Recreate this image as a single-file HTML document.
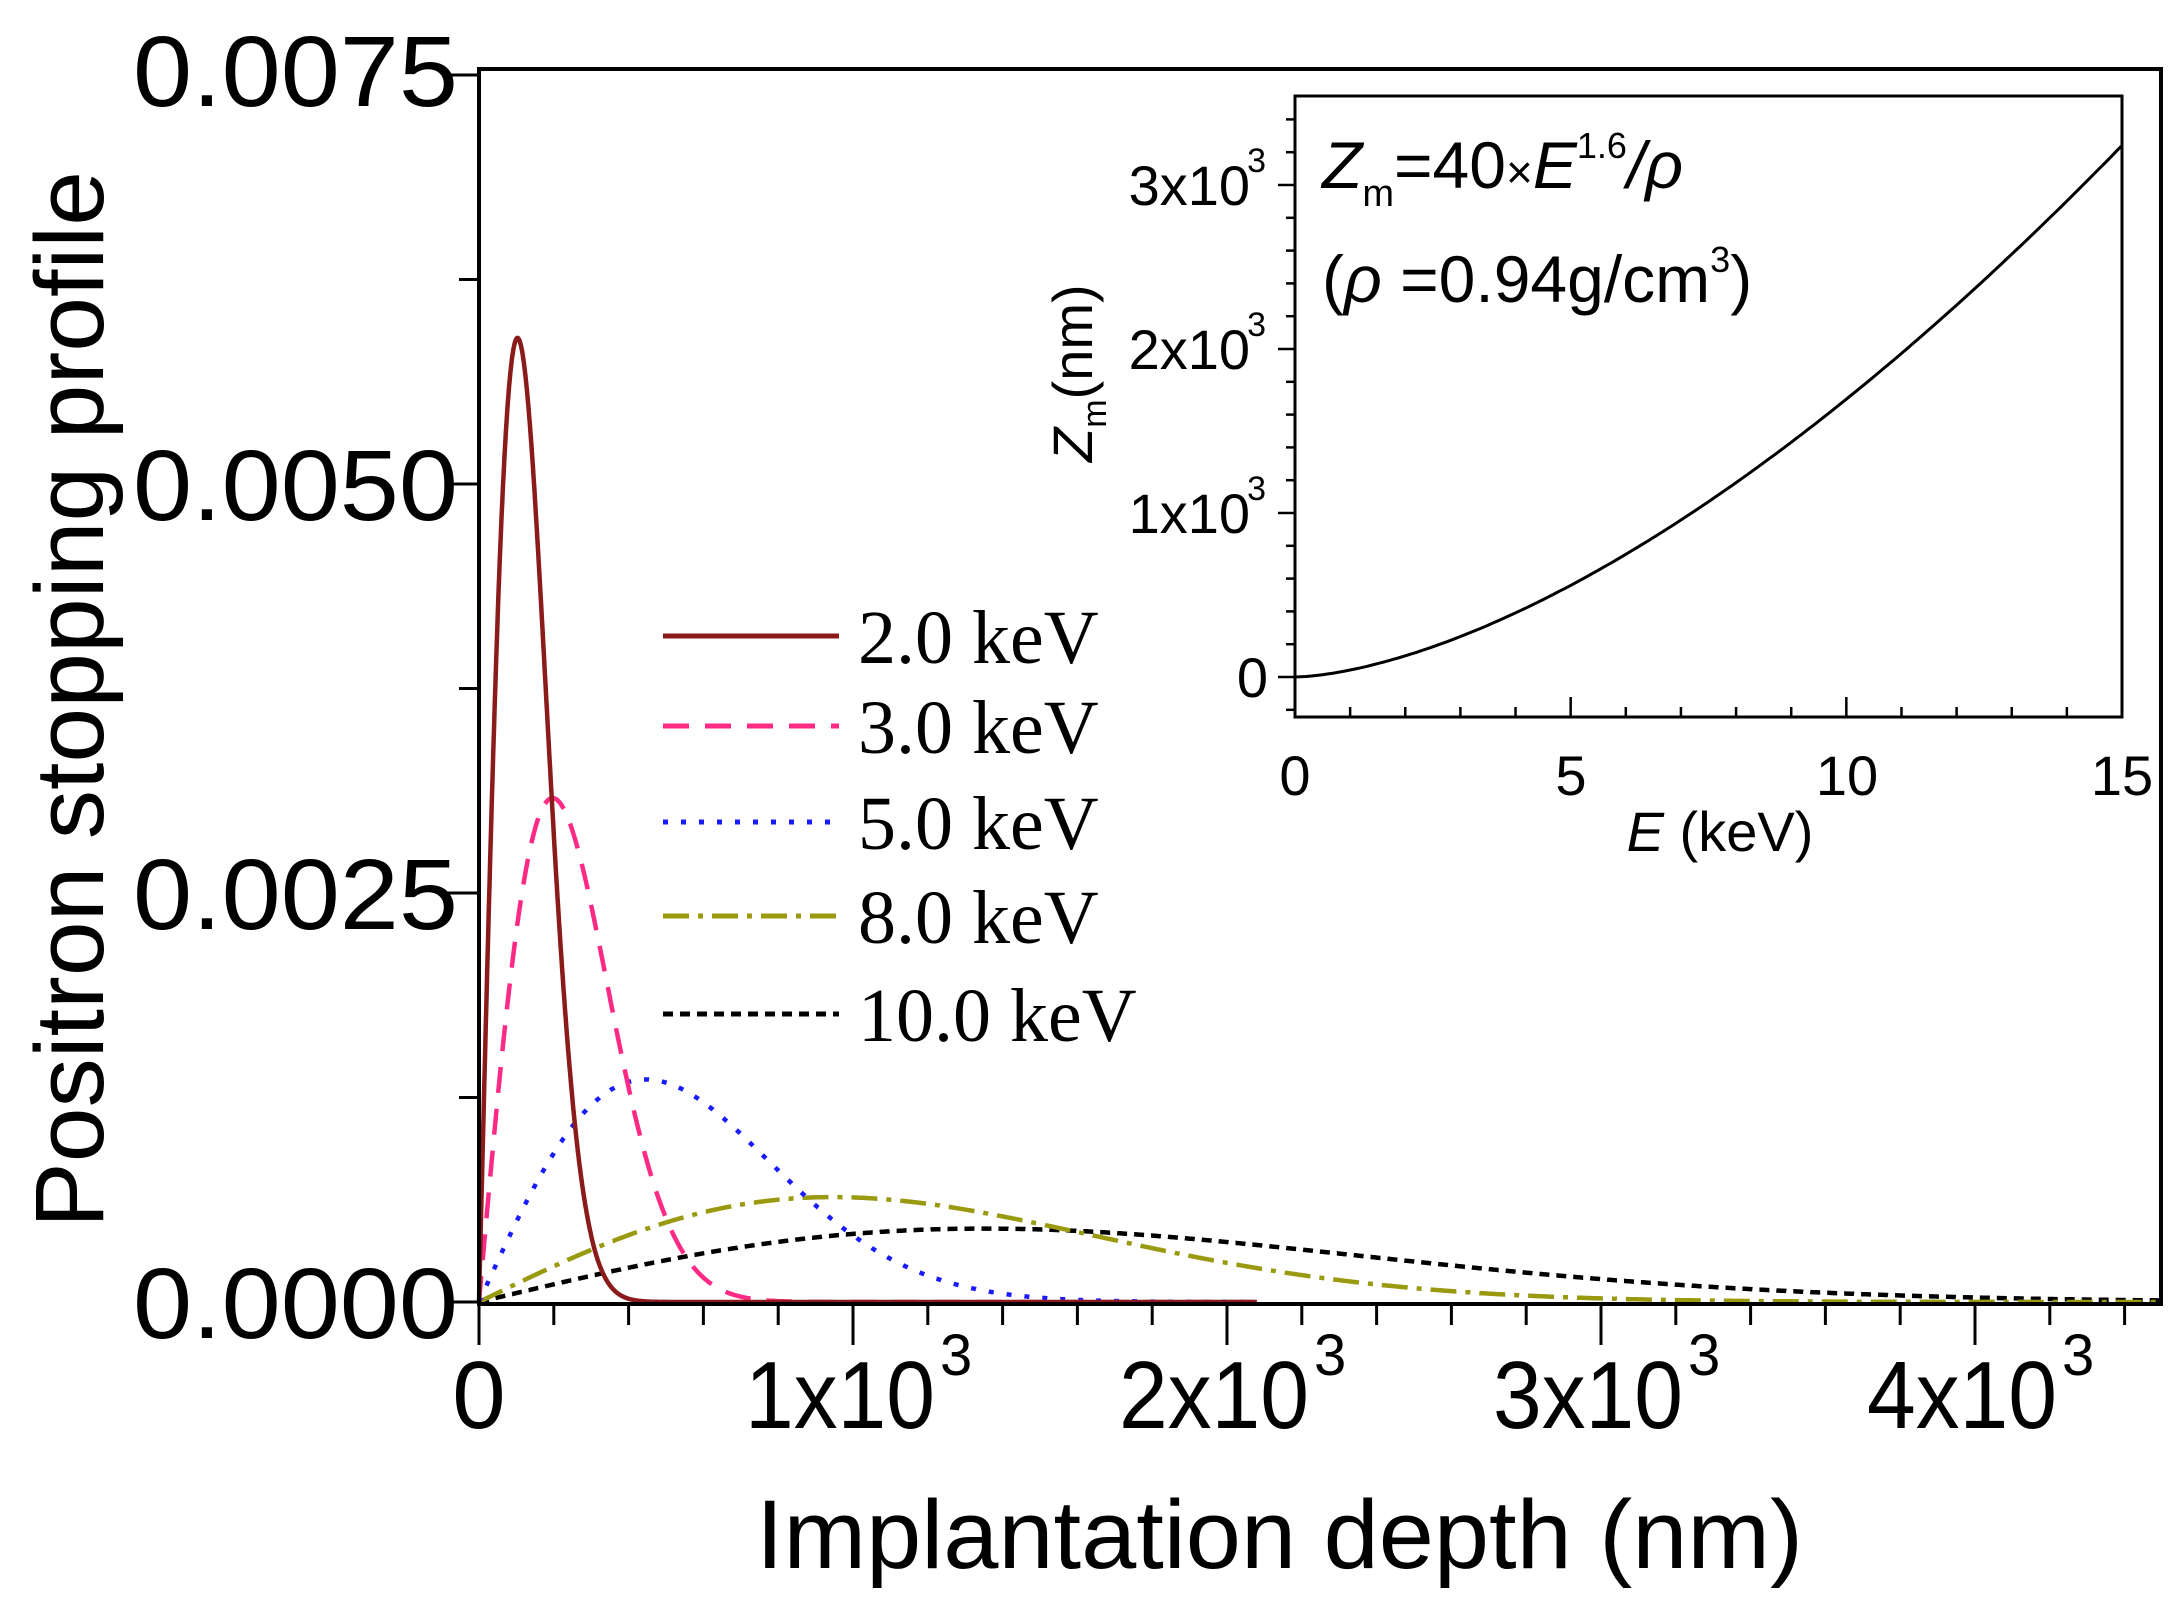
<!DOCTYPE html>
<html><head><meta charset="utf-8"><style>
html,body{margin:0;padding:0;background:#fff;}
svg{display:block;}
text{font-family:"Liberation Sans",Arial,sans-serif;fill:#000;}
.t{font-family:"Liberation Serif","Times New Roman",serif;}
</style></head><body>
<svg id="s" width="2175" height="1608" viewBox="0 0 2175 1608" xmlns="http://www.w3.org/2000/svg">
<rect width="2175" height="1608" fill="#fff"/>
<g id="curves" fill="none"></g>
<g id="axes" stroke="#000" fill="none"></g>
<rect x="479" y="69" width="1682" height="1235" fill="none" stroke="#000" stroke-width="4"/>
<g font-size="100" text-anchor="end">
<text x="458" y="1338" textLength="325" lengthAdjust="spacingAndGlyphs">0.0000</text>
<text x="458" y="929" textLength="325" lengthAdjust="spacingAndGlyphs">0.0025</text>
<text x="458" y="520" textLength="325" lengthAdjust="spacingAndGlyphs">0.0050</text>
<text x="458" y="106" textLength="325" lengthAdjust="spacingAndGlyphs">0.0075</text>
</g>
<g font-size="96">
<text x="479" y="1428" text-anchor="middle">0</text>
<text x="745" y="1428" textLength="190" lengthAdjust="spacingAndGlyphs">1x10</text><text x="940" y="1375" font-size="58">3</text>
<text x="1119" y="1428" textLength="190" lengthAdjust="spacingAndGlyphs">2x10</text><text x="1314" y="1375" font-size="58">3</text>
<text x="1493" y="1428" textLength="190" lengthAdjust="spacingAndGlyphs">3x10</text><text x="1688" y="1375" font-size="58">3</text>
<text x="1867" y="1428" textLength="190" lengthAdjust="spacingAndGlyphs">4x10</text><text x="2062" y="1375" font-size="58">3</text>
</g>
<text x="756" y="1568" font-size="97" textLength="1047" lengthAdjust="spacingAndGlyphs">Implantation depth (nm)</text>
<text transform="translate(103,1228) rotate(-90)" font-size="97" textLength="1057" lengthAdjust="spacingAndGlyphs">Positron stopping profile</text>
<g stroke-width="5">
<line x1="663" y1="636" x2="839" y2="636" stroke="#8b1a1a"/>
<line x1="663" y1="726" x2="839" y2="726" stroke="#ff2a85" stroke-dasharray="26,16"/>
<line x1="663" y1="822" x2="839" y2="822" stroke="#1a1aff" stroke-dasharray="5,13"/>
<line x1="663" y1="916" x2="839" y2="916" stroke="#9a9a10" stroke-dasharray="26,9,5,9"/>
<line x1="663" y1="1014" x2="839" y2="1014" stroke="#000" stroke-dasharray="10,7"/>
</g>
<g class="t" font-size="76">
<text class="t" x="858" y="663">2.0 keV</text>
<text class="t" x="858" y="753">3.0 keV</text>
<text class="t" x="858" y="849">5.0 keV</text>
<text class="t" x="858" y="943">8.0 keV</text>
<text class="t" x="858" y="1041">10.0 keV</text>
</g>
<rect x="1295" y="96" width="827" height="621" fill="#fff" stroke="#000" stroke-width="3"/>
<g id="inset" fill="none"></g>
<g font-size="56" text-anchor="end">
<text x="1268" y="697">0</text>
<text x="1250" y="533">1x10</text><text x="1266" y="500" font-size="34">3</text>
<text x="1250" y="369">2x10</text><text x="1266" y="336" font-size="34">3</text>
<text x="1250" y="205">3x10</text><text x="1266" y="172" font-size="34">3</text>
</g>
<g font-size="56" text-anchor="middle">
<text x="1295" y="795">0</text>
<text x="1571" y="795">5</text>
<text x="1847" y="795">10</text>
<text x="2122" y="795">15</text>
</g>
<text x="1720" y="851" font-size="56" text-anchor="middle"><tspan font-style="italic">E</tspan> (keV)</text>
<text transform="translate(1092,462) rotate(-90)" font-size="56"><tspan font-style="italic">Z</tspan><tspan font-size="34" dy="14">m</tspan><tspan dy="-14">(nm)</tspan></text>
<text x="1322" y="188" font-size="66"><tspan font-style="italic">Z</tspan><tspan font-size="38" dy="18">m</tspan><tspan dy="-18">=40</tspan><tspan font-size="46">×</tspan><tspan font-style="italic">E</tspan><tspan font-size="36" dy="-30">1.6</tspan><tspan dy="30" font-style="italic">/ρ</tspan></text>
<text x="1322" y="302" font-size="66">(<tspan font-style="italic">ρ</tspan> =0.94g/cm<tspan font-size="36" dy="-30">3</tspan><tspan dy="30">)</tspan></text>
</svg>
<script>
(function(){
var NS="http://www.w3.org/2000/svg";
function el(p,tag,a){var e=document.createElementNS(NS,tag);for(var k in a)e.setAttribute(k,a[k]);p.appendChild(e);return e;}
var X0=479,PX=0.374,Y0=1302,PY=409/0.0025;
var cur=document.getElementById('curves');
var ser=[[2,2080,'#8b1a1a','none'],[3,2080,'#ff2a85','26,16'],[5,2080,'#1a1aff','5,13'],[8,4500,'#9a9a10','26,9,5,9'],[10,4500,'#000','10,7']];
ser.slice().reverse().forEach(function(s){
 var zm=40*Math.pow(s[0],1.6)/0.94,z0=zm/0.886227,d='';
 for(var z=0;z<=s[1];z+=2){var p=2*z/(z0*z0)*Math.exp(-(z/z0)*(z/z0));
  d+=(z?'L':'M')+(X0+z*PX).toFixed(1)+','+(Y0-p*PY).toFixed(1);}
 var a={d:d,stroke:s[2],'stroke-width':4.5};if(s[3]!='none')a['stroke-dasharray']=s[3];
 el(cur,'path',a);
});
var ax=document.getElementById('axes');
for(var v=0;v<=4500;v+=200){var x=X0+v*PX,maj=v%1000==0;el(ax,'line',{x1:x,y1:1304,x2:x,y2:maj?1345:1325,'stroke-width':3});}
for(var i=0;i<=6;i++){var y=Y0-i*204.5;el(ax,'line',{x1:479,y1:y,x2:i%2?459:445,y2:y,'stroke-width':3});}
var ins=document.getElementById('inset');
var IX0=1295,IPX=827/15,IY0=677,IPY=0.164;
for(var e=0;e<=15;e++){var x=IX0+e*IPX;el(ins,'line',{x1:x,y1:717,x2:x,y2:e%5?707:697,stroke:'#000','stroke-width':2.5});}
for(var z=-200;z<=3400;z+=200){var y=IY0-z*IPY;if(y<98)continue;el(ins,'line',{x1:1295,y1:y,x2:z%1000?1286:1278,y2:y,stroke:'#000','stroke-width':2.5});}
var d='';for(var e=0;e<=15.001;e+=0.1){var zz=40*Math.pow(e,1.6)/0.94;d+=(e?'L':'M')+(IX0+e*IPX).toFixed(1)+','+(IY0-zz*IPY).toFixed(1);}
el(ins,'path',{d:d,stroke:'#000','stroke-width':3});
})();
</script>
</body></html>
